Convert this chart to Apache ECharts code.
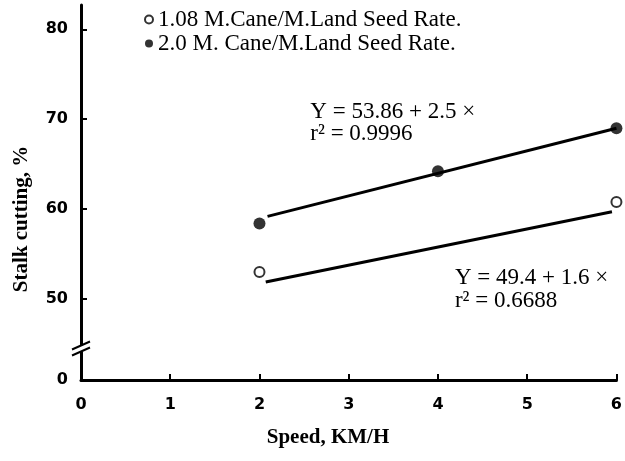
<!DOCTYPE html>
<html>
<head>
<meta charset="utf-8">
<script src="https://cdn.jsdelivr.net/npm/echarts@6/dist/echarts.min.js"></script>
<style>html,body{margin:0;padding:0;background:#fff}#c{width:625px;height:461px}</style>
</head>
<body>
<div id="c"></div>
<script>
// ---- data ----
const xTickValues = [0, 1, 2, 3, 4, 5, 6];
const yTickValues = [50, 60, 70, 80];
const yBreakBottom = 41;          // bottom of broken axis, labelled "0"
const yBreakAt = 44.5;
const legendNames = ['1.08 M.Cane/M.Land Seed Rate.', '2.0 M. Cane/M.Land Seed Rate.'];
const speedLow = [2, 6];
const stalkLow = [53.0, 60.8];
const speedHigh = [2, 4, 6];
const stalkHigh = [58.4, 64.2, 69.0];
const fitLowX = [2.07, 5.95];
const fitLowY = [51.9, 59.7];
const fitHighX = [2.09, 6.0];
const fitHighY = [59.2, 69.0];
const eqHigh = ['Y = 53.86 + 2.5 ×', 'r² = 0.9996'];
const eqLow = ['Y = 49.4 + 1.6 ×', 'r² = 0.6688'];
const xTitle = 'Speed, KM/H';
const yTitle = 'Stalk cutting, %';

const zip = (a, b) => a.map((v, i) => [v, b[i]]);
const serif = '"Liberation Serif", "Times New Roman", serif';
const tickFont = { fontFamily: '"DejaVu Sans", sans-serif', fontWeight: 'bold', fontSize: 16, color: '#000' };

const chart = echarts.init(document.getElementById('c'), null, { renderer: 'canvas' });
chart.setOption({
  animation: false,
  backgroundColor: '#fff',
  grid: { left: 81, right: 7, top: 5, bottom: 81, containLabel: false },
  legend: {
    data: legendNames,
    orient: 'vertical',
    left: 139, top: 3,
    itemWidth: 8, itemHeight: 8, itemGap: 1,
    textStyle: { fontFamily: serif, fontSize: 23, color: '#000', lineHeight: 23 }
  },
  xAxis: {
    type: 'value', min: 0, max: 6, interval: 1,
    axisLine: { show: true, onZero: false, lineStyle: { color: '#000', width: 3 } },
    axisTick: { show: true, inside: true, length: 6, lineStyle: { color: '#000', width: 2 } },
    axisLabel: Object.assign({ margin: 17 }, tickFont),
    splitLine: { show: false }
  },
  yAxis: {
    type: 'value', min: yBreakBottom, max: 82.7,
    axisLine: { show: true, onZero: false, lineStyle: { color: '#000', width: 3 } },
    axisTick: { show: true, inside: true, length: 6, customValues: yTickValues, lineStyle: { color: '#000', width: 2 } },
    axisLabel: Object.assign({
      margin: 13,
      customValues: [yBreakBottom].concat(yTickValues),
      formatter: v => (v === yBreakBottom ? '0' : String(v))
    }, tickFont),
    splitLine: { show: false }
  },
  series: [
    { type: 'line', name: 'fitHigh', data: zip(fitHighX, fitHighY), symbol: 'none', lineStyle: { color: '#000', width: 3 }, z: 2 },
    { type: 'line', name: 'fitLow', data: zip(fitLowX, fitLowY), symbol: 'none', lineStyle: { color: '#000', width: 3 }, z: 2 },
    { type: 'scatter', name: legendNames[0], data: zip(speedLow, stalkLow), symbol: 'circle', symbolSize: 10,
      itemStyle: { color: '#fff', borderColor: '#000', borderWidth: 2 }, z: 3 },
    { type: 'scatter', name: legendNames[1], data: zip(speedHigh, stalkHigh), symbol: 'circle', symbolSize: 12,
      itemStyle: { color: '#000' }, z: 3 }
  ]
});

function px(x, y) { return chart.convertToPixel({ gridIndex: 0 }, [x, y]); }
const b = px(0, yBreakAt);
const hiAnchor = px(2.57, 70.8);
const loAnchor = px(4.19, 52.4);
const textStyle = { fontFamily: serif, fontSize: 23, fill: '#000' };
chart.setOption({
  graphic: [
    { type: 'rect', shape: { x: b[0] - 3, y: b[1] - 3, width: 6, height: 6 }, style: { fill: '#fff' }, z: 100 },
    { type: 'line', shape: { x1: b[0] - 9, y1: b[1] + 1, x2: b[0] + 9, y2: b[1] - 7 }, style: { stroke: '#000', lineWidth: 2 }, z: 101 },
    { type: 'line', shape: { x1: b[0] - 9, y1: b[1] + 7, x2: b[0] + 9, y2: b[1] - 1 }, style: { stroke: '#000', lineWidth: 2 }, z: 101 },
    { type: 'text', x: hiAnchor[0], y: hiAnchor[1], style: Object.assign({ text: eqHigh[0], verticalAlign: 'middle' }, textStyle) },
    { type: 'text', x: hiAnchor[0], y: hiAnchor[1] + 22, style: Object.assign({ text: eqHigh[1], verticalAlign: 'middle' }, textStyle) },
    { type: 'text', x: loAnchor[0], y: loAnchor[1], style: Object.assign({ text: eqLow[0], verticalAlign: 'middle' }, textStyle) },
    { type: 'text', x: loAnchor[0], y: loAnchor[1] + 23, style: Object.assign({ text: eqLow[1], verticalAlign: 'middle' }, textStyle) },
    { type: 'text', x: 328, y: 438, style: { text: xTitle, fontFamily: serif, fontWeight: 'bold', fontSize: 21, fill: '#000', align: 'center', verticalAlign: 'middle' } },
    { type: 'text', x: 22, y: 219, rotation: Math.PI / 2, style: { text: yTitle, fontFamily: serif, fontWeight: 'bold', fontSize: 21, fill: '#000', align: 'center', verticalAlign: 'middle' } }
  ]
});
</script>
</body>
</html>
